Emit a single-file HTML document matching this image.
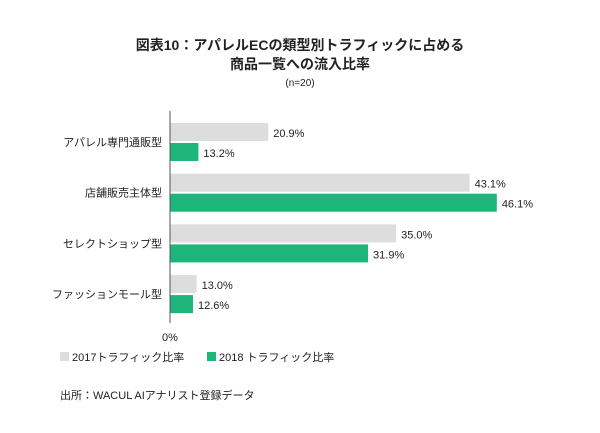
<!DOCTYPE html>
<html><head><meta charset="utf-8"><style>
body{margin:0;background:#fff;font-family:"Liberation Sans","Noto Sans CJK JP",sans-serif;}
svg text{font-family:"Liberation Sans","Noto Sans CJK JP",sans-serif;fill:#222;}
</style></head><body>
<svg width="600" height="428">
<text x="300" y="50" text-anchor="middle" font-size="14" font-weight="bold">図表10：アパレルECの類型別トラフィックに占める</text>
<text x="300" y="69" text-anchor="middle" font-size="14" font-weight="bold">商品一覧への流入比率</text>
<text x="300" y="86" text-anchor="middle" font-size="10">(n=20)</text>
<g id="plot"></g>
<line x1="170" y1="111" x2="170" y2="323" stroke="#555" stroke-width="1"/>
<text x="170" y="341" text-anchor="middle" font-size="11">0%</text>
<rect x="60" y="352" width="9" height="9" fill="#dddddd"/>
<text x="72" y="361" font-size="11">2017トラフィック比率</text>
<rect x="207" y="352" width="9" height="9" fill="#1db57a"/>
<text x="219" y="361" font-size="11">2018 トラフィック比率</text>
<text x="60" y="399" font-size="11">出所：WACUL AIアナリスト登録データ</text>
</svg>
<script>
const categories=["アパレル専門通販型","店舗販売主体型","セレクトショップ型","ファッションモール型"];
const values2017=[20.9,43.1,35.0,13.0];
const values2018=[13.2,46.1,31.9,12.6];
const labels2017=["20.9%","43.1%","35.0%","13.0%"];
const labels2018=["13.2%","46.1%","31.9%","12.6%"];
const NS="http://www.w3.org/2000/svg";
const g=document.getElementById('plot');
function x(v){return 78.7+9.07*v;}
function yTop(i){return 123+50.7*i;}
function mk(t,a){const e=document.createElementNS(NS,t);for(const k in a)e.setAttribute(k,a[k]);g.appendChild(e);return e;}
categories.forEach((c,i)=>{
  const y=yTop(i);
  const t=mk('text',{x:162,y:y+23,'text-anchor':'end','font-size':11});
  t.textContent=c;
  
  
  const b1=mk('rect',{x:170,y:y,width:Math.max(0,x(values2017[i])-170),height:18,fill:'#dddddd'});
  
  
  const l1=mk('text',{x:x(values2017[i])+5,y:y+14,'font-size':11});
  l1.textContent=labels2017[i];
  
  
  const b2=mk('rect',{x:170,y:y+20,width:Math.max(0,x(values2018[i])-170),height:18,fill:'#1db57a'});
  
  
  const l2=mk('text',{x:x(values2018[i])+5,y:y+34,'font-size':11});
  l2.textContent=labels2018[i];
  
  
});
</script>
</body></html>
